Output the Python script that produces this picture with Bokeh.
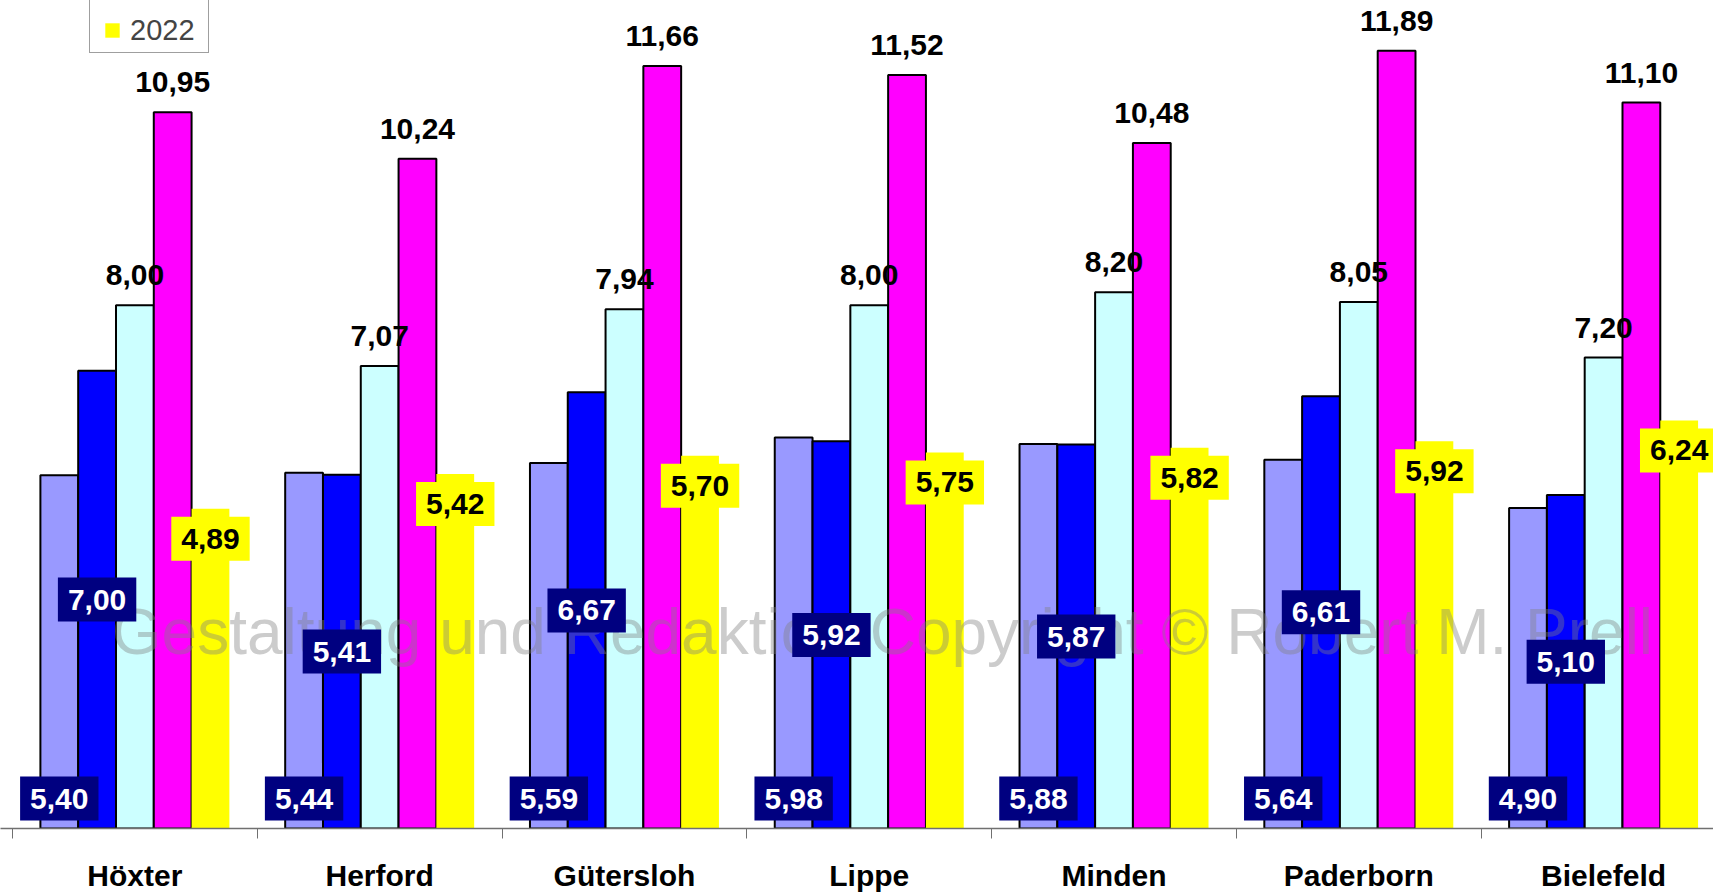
import numpy as np
from bokeh.plotting import figure
from bokeh.models import (ColumnDataSource, Range1d, FixedTicker,
                          Legend, LegendItem)
from bokeh.core.properties import value
from bokeh.embed import file_html
from bokeh.resources import INLINE

# ---- data ----
categories = ["Höxter", "Herford", "Gütersloh", "Lippe", "Minden", "Paderborn", "Bielefeld"]
series_1 = [5.40, 5.44, 5.59, 5.98, 5.88, 5.64, 4.90]
series_2 = [7.00, 5.41, 6.67, 5.92, 5.87, 6.61, 5.10]
series_3 = [8.00, 7.07, 7.94, 8.00, 8.20, 8.05, 7.20]
series_4 = [10.95, 10.24, 11.66, 11.52, 10.48, 11.89, 11.10]
series_5 = [4.89, 5.42, 5.70, 5.75, 5.82, 5.92, 6.24]
legend_label = "2022"
watermark = "Gestaltung und Redaktion Copyright © Robert M. Prell"

colors = ["#9999FF", "#0000FF", "#CCFFFF", "#FF00FF", "#FFFF00"]
FONT = "Liberation Sans"
BAR_W = 0.1544

def fmt(v):
    return f"{v:.2f}".replace(".", ",")

idx = np.arange(len(categories))
series = [series_1, series_2, series_3, series_4, series_5]
sources = []
for j, vals in enumerate(series):
    vals = np.array(vals)
    sources.append(ColumnDataSource(dict(
        x=idx + 0.5 + (j - 2) * BAR_W,
        top=vals,
        half=vals / 2.0,
        zero=np.zeros_like(vals),
        lab=[fmt(v) for v in vals],
    )))

p = figure(width=1713, height=895, output_backend="svg", toolbar_location=None,
           x_range=Range1d(-0.049, 6.949), y_range=Range1d(0, 12.66),
           min_border_left=0, min_border_right=0, min_border_top=0, min_border_bottom=67)
p.outline_line_color = None
p.grid.visible = False
p.yaxis.visible = False

renderers = []
for j, src in enumerate(sources):
    lc = None if j == 4 else "black"
    r = p.vbar(x="x", top="top", width=BAR_W, source=src, fill_color=colors[j],
               line_color=lc, line_width=2)
    renderers.append(r)

# square swatch used only for the legend entry
swatch = p.scatter(x="x", y="top", source=sources[4], marker="square",
                   fill_color=colors[4], line_color=None, visible=False)

# watermark
p.text(x=[3.554], y=[3.01], text=[watermark], text_font=value(FONT),
       text_font_size="64px", text_color="#808080", text_alpha=0.4,
       text_align="center", text_baseline="middle")

# labels
common = dict(text="lab", text_font=value(FONT), text_font_size="30px",
              text_font_style="bold", text_align="center", text_baseline="middle")
p.text(x="x", y="zero", source=sources[0], y_offset=-30, text_color="white",
       background_fill_color="#000080", padding=(10, 12), **common)
p.text(x="x", y="half", source=sources[1], y_offset=0, text_color="white",
       background_fill_color="#000080", padding=(10, 12), **common)
p.text(x="x", y="top", source=sources[2], y_offset=-30, text_color="black", **common)
p.text(x="x", y="top", source=sources[3], y_offset=-30, text_color="black", **common)
p.text(x="x", y="top", source=sources[4], y_offset=30, text_color="black",
       background_fill_color="#FFFF00", padding=(10, 12), **common)

# x axis
ax = p.xaxis[0]
ax.ticker = FixedTicker(ticks=list(idx + 0.5), minor_ticks=list(range(len(categories) + 1)))
ax.major_label_overrides = {float(i + 0.5): c for i, c in enumerate(categories)}
ax.major_tick_out = 0
ax.major_tick_in = 0
ax.minor_tick_out = 10
ax.minor_tick_in = 0
ax.minor_tick_line_color = "#707070"
ax.axis_line_color = "#707070"
ax.axis_line_width = 1.5
ax.major_label_standoff = 20
ax.major_label_text_font = FONT
ax.major_label_text_font_size = "30px"
ax.major_label_text_font_style = "bold"
ax.major_label_text_color = "black"

# legend (bottom edge ~53 px from the top, left edge ~89 px; its top runs off the page)
legend = Legend(items=[LegendItem(label=legend_label, renderers=[swatch])],
                location=(89, 828 - 53), glyph_width=36, glyph_height=36,
                label_text_font=FONT, label_text_font_size="29px",
                padding=4, margin=0, label_standoff=0, label_width=74,
                title=" ", title_text_font_size="16px", title_standoff=4,
                border_line_color="#404040", border_line_width=1.5,
                background_fill_alpha=1.0)
p.add_layout(legend)

open("out.html", "w").write(file_html(p, INLINE))
